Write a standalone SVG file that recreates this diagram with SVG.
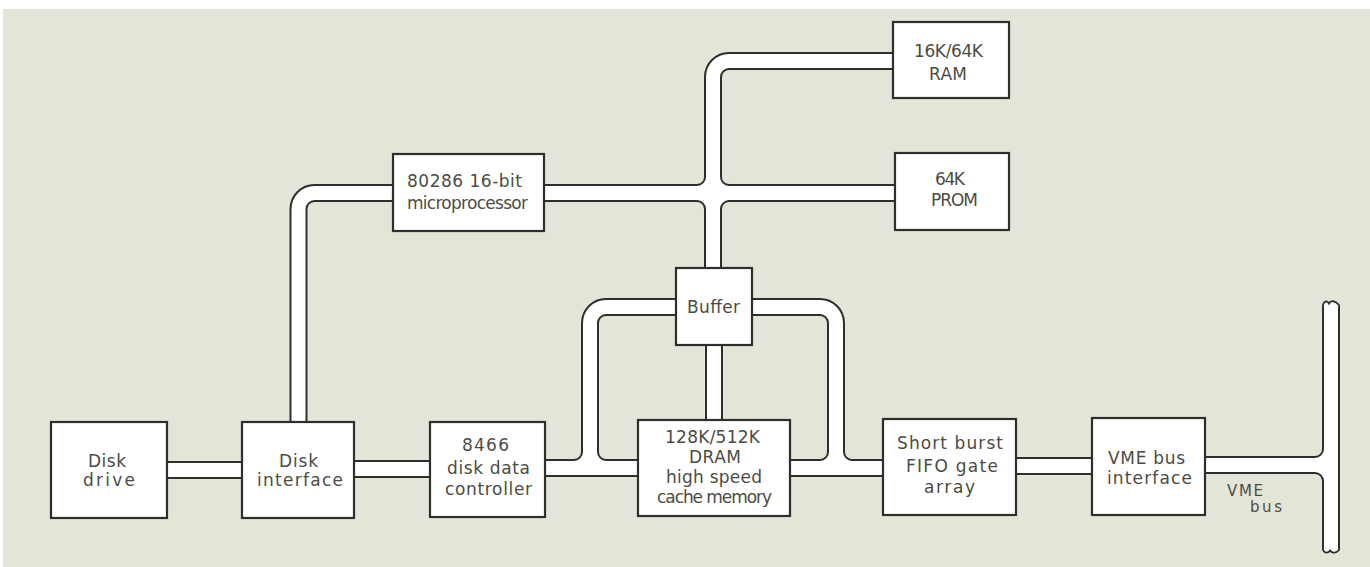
<svg xmlns="http://www.w3.org/2000/svg" xmlns:xlink="http://www.w3.org/1999/xlink" width="1370" height="567" viewBox="0 0 1370 567">
<style>
.box{fill:#ffffff;stroke:#2e2e2a;stroke-width:2.2}
.lbl{font-family:"DejaVu Sans","Liberation Sans",sans-serif;font-size:17px;fill:#4c4c44}
.sm{font-size:15px}
.cap{fill:none;stroke:#2e2e2a;stroke-width:1.8}
</style>
<defs>
<g id="busgeom" fill="none">
<path d="M160,470 H250"/>
<path d="M350,469 H436"/>
<path d="M540,468 H645"/>
<path d="M784,468 H890"/>
<path d="M1010,466 H1098"/>
<path d="M1200,465 H1331"/>
<path d="M1331,306 V549"/>
<path d="M1300,465 H1315 A16,16 0 0 0 1331,449 V440"/>
<path d="M1300,465 H1315 A16,16 0 0 1 1331,481 V490"/>
<path d="M298.5,430 V209 A16,16 0 0 1 314.5,193 H400"/>
<path d="M540,193 H902"/>
<path d="M713,275 V77 A16,16 0 0 1 729,61 H900"/>
<path d="M690,193 H697 A16,16 0 0 0 713,177 V170"/>
<path d="M690,193 H697 A16,16 0 0 1 713,209 V215"/>
<path d="M736,193 H729 A16,16 0 0 1 713,177 V170"/>
<path d="M736,193 H729 A16,16 0 0 0 713,209 V215"/>
<path d="M714,340 V426"/>
<path d="M682,307 H606 A16,16 0 0 0 590,323 V452 A16,16 0 0 1 574,468 H560"/>
<path d="M590,440 V452 A16,16 0 0 0 606,468 H620"/>
<path d="M746,307 H820 A16,16 0 0 1 836,323 V452 A16,16 0 0 1 820,468 H800"/>
<path d="M836,440 V452 A16,16 0 0 0 852,468 H870"/>
</g>
</defs>
<rect x="0" y="0" width="1370" height="567" fill="#ffffff"/>
<rect x="3" y="9" width="1367" height="558" fill="#e4e5d9"/>
<g id="connectors">
<use xlink:href="#busgeom" href="#busgeom" stroke="#2e2e2a" stroke-width="18"/>
<use xlink:href="#busgeom" href="#busgeom" stroke="#ffffff" stroke-width="14"/>
<path d="M1323,308 V305 C1324.5,300.5 1327.5,300.5 1329,303.5 C1331,300 1335,300.5 1339,305 V308 Z" fill="#ffffff"/>
<path class="cap" d="M1323,308 V305 C1324.5,300.5 1327.5,300.5 1329,303.5 C1331,300 1335,300.5 1339,305 V308"/>
<path d="M1323,547 V550 C1325,553.5 1328,553.5 1330,550.5 C1332,553.5 1336,553.5 1339,550 V547 Z" fill="#ffffff"/>
<path class="cap" d="M1323,547 V550 C1325,553.5 1328,553.5 1330,550.5 C1332,553.5 1336,553.5 1339,550 V547"/>
<text class="lbl sm" x="1227" y="496" textLength="36" lengthAdjust="spacing">VME</text>
<text class="lbl sm" x="1250" y="512" textLength="32" lengthAdjust="spacing">bus</text>
</g>
<g id="disk-drive">
<rect class="box" x="51" y="422" width="116" height="96"/>
<text class="lbl" x="88" y="467" textLength="38" lengthAdjust="spacing">Disk</text>
<text class="lbl" x="83" y="486" textLength="52" lengthAdjust="spacing">drive</text>
</g>
<g id="disk-interface">
<rect class="box" x="242" y="422" width="112" height="96"/>
<text class="lbl" x="279" y="467" textLength="39" lengthAdjust="spacing">Disk</text>
<text class="lbl" x="257" y="486" textLength="86" lengthAdjust="spacing">interface</text>
</g>
<g id="disk-controller">
<rect class="box" x="430" y="422" width="115" height="95"/>
<text class="lbl" x="462" y="451" textLength="47" lengthAdjust="spacing">8466</text>
<text class="lbl" x="447" y="474" textLength="83" lengthAdjust="spacing">disk data</text>
<text class="lbl" x="445" y="495" textLength="87" lengthAdjust="spacing">controller</text>
</g>
<g id="dram">
<rect class="box" x="638" y="420" width="152" height="96"/>
<text class="lbl" x="665" y="443" textLength="95" lengthAdjust="spacing">128K/512K</text>
<text class="lbl" x="689" y="463" textLength="52" lengthAdjust="spacing">DRAM</text>
<text class="lbl" x="666" y="483" textLength="96" lengthAdjust="spacing">high speed</text>
<text class="lbl" x="657" y="503" textLength="115" lengthAdjust="spacing">cache memory</text>
</g>
<g id="fifo">
<rect class="box" x="883" y="419" width="133" height="96"/>
<text class="lbl" x="897" y="449" textLength="106" lengthAdjust="spacing">Short burst</text>
<text class="lbl" x="906" y="472" textLength="92" lengthAdjust="spacing">FIFO gate</text>
<text class="lbl" x="924" y="493" textLength="51" lengthAdjust="spacing">array</text>
</g>
<g id="vme-interface">
<rect class="box" x="1092" y="418" width="113" height="97"/>
<text class="lbl" x="1108" y="464" textLength="77" lengthAdjust="spacing">VME bus</text>
<text class="lbl" x="1107" y="484" textLength="85" lengthAdjust="spacing">interface</text>
</g>
<g id="microprocessor">
<rect class="box" x="393" y="154" width="151" height="77"/>
<text class="lbl" x="407" y="187" textLength="115" lengthAdjust="spacing">80286 16-bit</text>
<text class="lbl" x="407" y="209" textLength="121" lengthAdjust="spacing">microprocessor</text>
</g>
<g id="ram">
<rect class="box" x="893" y="22" width="116" height="76"/>
<text class="lbl" x="914" y="57" textLength="69" lengthAdjust="spacing">16K/64K</text>
<text class="lbl" x="929" y="80" textLength="38" lengthAdjust="spacing">RAM</text>
</g>
<g id="prom">
<rect class="box" x="895" y="153" width="114" height="77"/>
<text class="lbl" x="935" y="185" textLength="30" lengthAdjust="spacing">64K</text>
<text class="lbl" x="931" y="206" textLength="47" lengthAdjust="spacing">PROM</text>
</g>
<g id="buffer">
<rect class="box" x="676" y="268" width="76" height="77"/>
<text class="lbl" x="687" y="313" textLength="53" lengthAdjust="spacing">Buffer</text>
</g>
</svg>
